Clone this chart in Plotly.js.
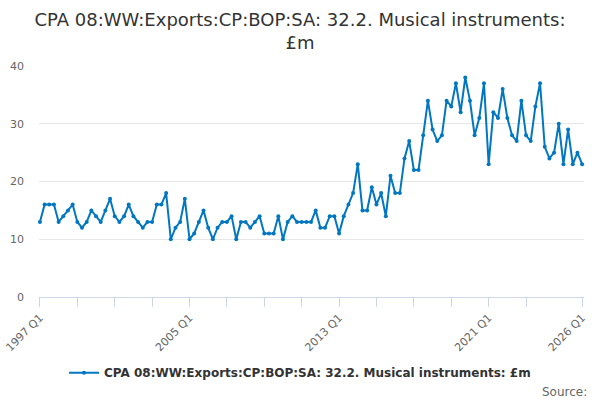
<!DOCTYPE html>
<html>
<head>
<meta charset="utf-8">
<script src="https://cdn.plot.ly/plotly-3.0.1.min.js"></script>
<style>
  html, body { margin: 0; padding: 0; background: #fff; }
  #chart { width: 600px; height: 400px; }
</style>
</head>
<body>
<div id="chart"></div>
<script>
// quarterly exports, £m, 1997 Q1 .. 2026 Q1
const seriesName = 'CPA 08:WW:Exports:CP:BOP:SA: 32.2. Musical instruments: £m';
const values = [
    13, 16, 16, 16,  13, 14, 15, 16,  13, 12, 13, 15,  14, 13, 15, 17,
    14, 13, 14, 16,  14, 13, 12, 13,  13, 16, 16, 18,  10, 12, 13, 17,
    10, 11, 13, 15,  12, 10, 12, 13,  13, 14, 10, 13,  13, 12, 13, 14,
    11, 11, 11, 14,  10, 13, 14, 13,  13, 13, 13, 15,  12, 12, 14, 14,
    11, 14, 16, 18,  23, 15, 15, 19,  16, 18, 14, 21,  18, 18, 24, 27,
    22, 22, 28, 34,  29, 27, 28, 34,  33, 37, 32, 38,  34, 28, 31, 37,
    23, 32, 31, 36,  31, 28, 27, 34,  28, 27, 33, 37,  26, 24, 25, 30,
    23, 29, 23, 25,  23
];
const firstYear = 1997;

// quarter labels
const quarters = [];
for (let i = 0; i < values.length; i++) {
    quarters.push((firstYear + Math.floor(i / 4)) + ' Q' + (i % 4 + 1));
}

// a tick every two years, labels every eight, plus the last quarter
const tickQuarters = ['1997 Q1', '1999 Q1', '2001 Q1', '2003 Q1', '2005 Q1', '2007 Q1',
    '2009 Q1', '2011 Q1', '2013 Q1', '2015 Q1', '2017 Q1', '2019 Q1', '2021 Q1',
    '2023 Q1', '2026 Q1'];
const tickLabels = ['1997 Q1', '', '', '', '2005 Q1', '', '', '', '2013 Q1', '', '', '',
    '2021 Q1', '', '2026 Q1'];

const data = [
    {
        x: quarters,
        y: values,
        name: seriesName,
        type: 'scatter',
        mode: 'lines+markers',
        line: { color: '#0077c0', width: 2 },
        marker: { color: '#0077c0', size: 4 },
        cliponaxis: false,
        showlegend: true
    }
];

const layout = {
    width: 600,
    height: 400,
    font: { family: 'DejaVu Sans, sans-serif', color: '#666666' },
    paper_bgcolor: '#ffffff',
    plot_bgcolor: '#ffffff',
    margin: { l: 39, r: 16, t: 66, b: 103, pad: 0 },
    title: {
        text: 'CPA 08:WW:Exports:CP:BOP:SA: 32.2. Musical instruments:<br>£m',
        font: { size: 18, color: '#333333' },
        x: 0.5,
        xanchor: 'center',
        yref: 'container',
        y: 0.936,
        yanchor: 'middle'
    },
    xaxis: {
        type: 'category',
        range: [-0.2, 116.4],
        tickmode: 'array',
        tickvals: tickQuarters,
        ticktext: tickLabels,
        tickangle: -45,
        tickfont: { size: 11, color: '#666666' },
        ticks: 'outside',
        ticklen: 9,
        tickcolor: '#ccd6eb',
        showline: true,
        linecolor: '#ccd6eb',
        showgrid: false,
        zeroline: false,
        fixedrange: true
    },
    yaxis: {
        range: [0, 40],
        tickvals: [0, 10, 20, 30, 40],
        tickfont: { size: 11, color: '#666666' },
        gridcolor: '#e6e6e6',
        zeroline: false,
        ticks: '',
        ticklabelstandoff: 14,
        fixedrange: true
    },
    legend: {
        orientation: 'h',
        x: 0.5,
        xanchor: 'center',
        xref: 'container',
        yref: 'container',
        y: 0.068,
        yanchor: 'middle',
        font: { size: 12, color: '#333333', weight: 'bold' }
    },
    annotations: [
        {
            text: 'Source:',
            xref: 'paper',
            yref: 'paper',
            x: 1.01,
            y: -0.41,
            xanchor: 'right',
            yanchor: 'middle',
            showarrow: false,
            font: { size: 12, color: '#666666' }
        }
    ]
};

Plotly.newPlot('chart', data, layout, { displayModeBar: false, staticPlot: true });
</script>
</body>
</html>
